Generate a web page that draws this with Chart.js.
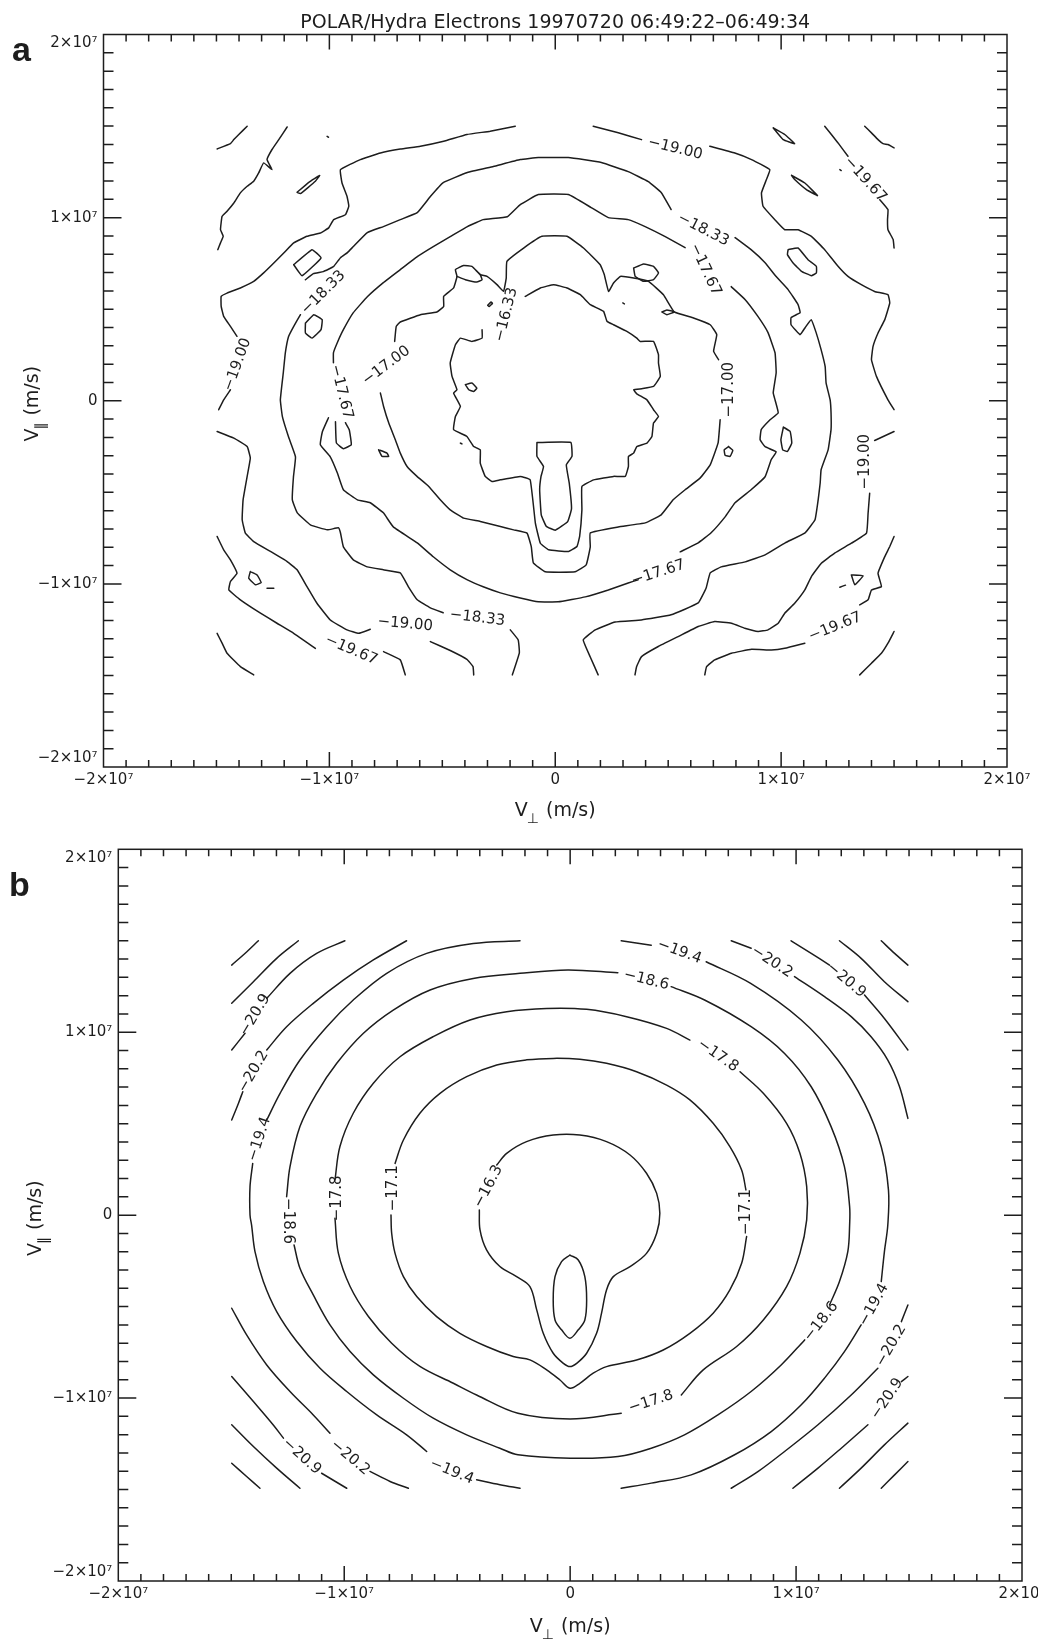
<!DOCTYPE html>
<html>
<head>
<meta charset="utf-8">
<title>POLAR/Hydra Electrons 19970720</title>
<script src="https://cdn.jsdelivr.net/npm/chart.js@4.4.1/dist/chart.umd.min.js"></script>
<style>
  html, body { margin: 0; padding: 0; background: #ffffff; }
  #page { position: relative; width: 1038px; height: 1645px; overflow: hidden; }
  #panelA { position: absolute; left: 0; top: 0; }
  #panelB { position: absolute; left: 0; top: 830px; }
</style>
</head>
<body>
<div id="page">
  <canvas id="panelA" width="1038" height="830"></canvas>
  <canvas id="panelB" width="1038" height="815"></canvas>
</div>
<script>
// Velocities below are in units of 1e6 m/s; null breaks a contour line.
const MEGA = 1e6;

// ---------- tick labels ----------
const xTickLabels = ['\u22122\u00d710\u2077', '\u22121\u00d710\u2077', '0', '1\u00d710\u2077', '2\u00d710\u2077'];
const yTickLabels = [['\u22122\u00d710\u2077', ''], '\u22121\u00d710\u2077', '0', '1\u00d710\u2077', ['', '2\u00d710\u2077']];

const titleText = 'POLAR/Hydra Electrons 19970720 06:49:22\u201306:49:34';

// ---------- panel a : measured distribution, log f contours ----------
const a_corner = [
  [-14.97,13.75],[-14.38,14.04],[-14.23,14.26],[-14.01,14.54],[-13.64,14.99], null,
  [13.70,14.99],[14.00,14.63],[14.29,14.26],[14.51,14.04],[14.73,13.99],[15.0,13.81], null,
  [-14.97,-12.70],[-14.75,-13.24],[-14.53,-13.79],[-13.94,-14.52],[-13.35,-14.97], null,
  [15.0,-12.60],[14.73,-13.24],[14.44,-13.79],[14.00,-14.33],[13.48,-14.97]
];
const a_1967 = [
  [-11.87,14.95],[-12.24,14.26],[-12.54,13.72],[-12.76,13.17],[-12.54,12.62],[-12.91,12.99],[-13.13,12.44],[-13.35,11.99],[-13.64,11.71],[-13.94,11.35],[-14.23,10.80],[-14.53,10.35],[-14.75,10.07],[-14.82,9.34],[-14.70,8.98],[-14.82,8.62],[-14.94,8.25], null,
  [11.93,14.99],[12.52,14.08],[12.96,13.35], null, [14.37,10.98],[14.73,10.44],[14.71,9.89],[14.73,9.34],[14.96,8.80],[15.0,8.34], null,
  [-14.97,-7.41],[-14.68,-8.14],[-14.38,-8.69],[-14.09,-9.42],[-14.38,-9.87],[-14.45,-10.33],[-13.94,-10.87],[-13.05,-11.60],[-12.32,-12.15],[-11.58,-12.70],[-10.62,-13.52], null, [-7.60,-13.70],[-6.86,-14.15],[-6.64,-14.97], null,
  [15.0,-7.41],[14.81,-7.96],[14.59,-8.51],[14.29,-9.42],[14.44,-10.15],[14.00,-10.33],[13.85,-10.87],[13.48,-11.15], null, [11.05,-13.24],[10.16,-13.52],[9.57,-13.61],[8.69,-13.57],[7.80,-13.79],[7.06,-14.15],[6.70,-14.52],[6.62,-14.97]
];
const a_1900 = [
  [-1.77,14.99],[-2.88,14.72],[-3.91,14.54],[-4.94,14.17],[-5.97,13.90],[-6.86,13.75],[-7.74,13.53],[-8.63,13.17],[-9.51,12.62],[-9.44,11.89],[-9.22,11.17],[-9.14,10.62],[-9.29,10.16],[-9.81,9.89],[-10.03,9.44],[-10.40,9.16],[-10.99,8.98],[-11.58,8.62],[-12.02,8.07],[-12.46,7.52],[-12.91,6.98],[-13.35,6.52],[-13.94,6.16],[-14.53,5.88],[-14.79,5.70],[-14.79,5.15],[-14.68,4.61],[-14.38,4.06],[-14.09,3.52], null, [-14.38,0.60],[-14.68,0.05],[-14.90,-0.49], null,
  [-14.97,-1.68],[-14.23,-2.04],[-13.64,-2.50],[-13.50,-3.13],[-13.64,-4.13],[-13.82,-5.41],[-13.86,-6.50],[-13.72,-7.23],[-13.35,-7.69],[-12.61,-8.23],[-11.87,-8.78],[-11.43,-9.23],[-10.99,-10.15],[-10.55,-11.06],[-9.96,-11.97],[-9.22,-12.51],[-8.70,-12.70],[-8.19,-12.48], null, [-5.53,-13.15],[-4.65,-13.64],[-3.91,-14.12],[-3.64,-14.52],[-3.61,-14.97], null,
  [1.68,14.99],[2.79,14.63],[3.82,14.26], null, [6.84,13.90],[7.95,13.53],[8.69,13.17],[9.50,12.62],[9.35,12.08],[9.13,11.35],[9.20,10.62],[9.72,9.89],[10.16,9.34],[10.75,9.34],[11.34,8.98],[11.93,8.25],[12.52,7.34],[12.96,6.79],[13.55,6.34],[14.14,5.97],[14.73,5.79],[14.81,5.34],[14.59,4.43],[14.29,3.70],[14.07,2.97],[14.00,2.24],[14.22,1.33],[14.73,0.05],[15.0,-0.49], null,
  [15.0,-1.68],[14.14,-2.17], null, [13.92,-5.05],[13.85,-6.14],[13.78,-7.23],[13.11,-7.78],[12.37,-8.32],[11.78,-8.87],[11.34,-9.60],[11.05,-10.33],[10.60,-11.06],[10.16,-11.60],[9.87,-12.15],[9.42,-12.51],[8.98,-12.60],[8.39,-12.42],[7.80,-12.15],[7.06,-12.06],[6.33,-12.33],[5.44,-12.88],[4.56,-13.42],[3.82,-13.97],[3.60,-14.52],[3.53,-14.97]
];
const a_1833 = [
  [-1.90,-14.97],[-1.59,-13.77],[-1.64,-13.06],[-1.99,-12.51], null,
  [-4.96,-11.58],[-5.53,-11.31],[-6.11,-10.87],[-6.50,-10.16],[-6.86,-9.40],[-7.61,-9.23],[-8.32,-9.07],[-8.94,-8.69],[-9.38,-7.98],[-9.51,-7.21],[-9.60,-6.94],[-10.09,-7.05],[-10.84,-6.78],[-11.42,-6.12],[-11.64,-5.41],[-11.59,-4.15],[-11.50,-3.06],[-11.81,-1.97],[-12.08,-0.87],[-12.17,0.05],[-12.04,1.53],[-11.95,2.62],[-11.81,3.50],[-11.59,4.04],[-11.28,4.70], null,
  [-11.06,6.61],[-10.71,6.94],[-10.27,7.05],[-9.82,7.32],[-9.51,7.81],[-9.20,8.09],[-8.94,8.42],[-8.32,9.18],[-7.61,9.51],[-6.86,9.89],[-6.11,10.27],[-5.53,11.15],[-4.96,11.91],[-3.89,12.46],[-2.74,12.79],[-1.55,13.17],[-0.75,13.28],[0.58,13.28],[2.04,13.01],[3.23,12.51],[4.12,11.97],[4.69,11.37],[5.13,10.44], null,
  [7.96,8.91],[8.67,8.25],[9.29,7.54],[9.78,6.78],[10.31,6.07],[10.75,5.25],[10.84,4.81],[10.44,4.54],[10.44,4.15],[10.84,3.61],[11.06,3.99],[11.33,4.43],[11.55,3.72],[11.77,2.79],[11.95,1.86],[11.99,0.98],[12.17,0.05],[12.21,-0.66],[12.21,-1.58],[12.08,-2.68],[11.77,-3.77],[11.73,-4.48],[11.64,-5.41],[11.50,-6.50],[11.06,-7.21],[10.18,-7.76],[9.29,-8.42],[8.41,-8.80],[7.35,-9.07],[6.86,-9.40],[6.68,-10.22],[6.33,-11.04],[5.13,-11.69],[3.81,-11.97],[2.65,-12.08],[1.77,-12.51],[1.24,-13.06],[1.55,-13.99],[1.90,-14.97]
];
const a_1767 = [
  [-10.04,-0.93],[-10.31,-1.69],[-10.40,-2.40],[-9.96,-3.06],[-9.65,-3.93],[-9.38,-4.86],[-8.76,-5.41],[-8.19,-5.57],[-7.61,-6.12],[-7.17,-6.89],[-6.11,-7.76],[-5.40,-8.52],[-4.65,-9.23],[-3.89,-9.78],[-3.19,-10.16],[-2.43,-10.49],[-1.55,-10.77],[-0.75,-10.98],[0.13,-10.98],[1.33,-10.71],[2.35,-10.33],[3.23,-9.95],[3.67,-9.78], null,
  [5.53,-8.25],[6.33,-7.76],[6.90,-7.21],[7.52,-6.34],[7.96,-5.57],[8.67,-4.86],[9.29,-4.15],[9.56,-3.22],[9.78,-2.79],[9.29,-2.51],[9.07,-2.13],[9.12,-1.58],[9.51,-1.04],[9.87,-0.66],[9.73,0.05],[9.65,0.44],[9.78,1.53],[9.73,2.62],[9.42,3.72],[8.98,4.59],[8.41,5.52],[7.79,6.23], null,
  [5.75,8.36],[4.87,8.96],[3.98,9.51],[3.23,9.89],[2.35,10.00],[1.59,10.55],[0.58,11.26],[-0.75,11.26],[-1.55,10.71],[-2.12,10.05],[-3.19,9.89],[-3.89,9.51],[-4.65,8.96],[-5.40,8.42],[-6.11,7.87],[-6.86,7.16],[-7.61,6.45],[-8.32,5.68],[-8.94,4.81],[-9.38,3.88],[-9.65,3.17],[-9.82,2.62],[-9.82,2.08], null,
  [-9.73,-1.15],[-9.69,-2.30],[-9.38,-2.62],[-9.03,-2.40],[-9.12,-1.58],[-9.29,-1.20]
];
const a_1700 = [
  [-7.11,3.24],[-7.04,4.06],[-6.86,4.30],[-5.97,4.70],[-5.24,4.85],[-4.94,5.15],[-4.94,5.70],[-4.50,6.16],[-4.35,6.79],[-4.42,7.16],[-4.06,7.39],[-3.69,7.34],[-3.32,6.89],[-3.02,6.79],[-2.58,6.34],[-2.29,5.97],[-2.17,6.70],[-2.14,7.61],[-1.40,8.34],[-0.59,8.98],[0.52,8.98],[1.25,8.34],[1.99,7.43],[2.17,6.89],[2.36,5.97],[2.58,6.43],[2.88,6.79],[3.47,6.70],[4.13,6.52],[4.79,5.79],[5.27,4.85],[6.12,4.52],[6.86,4.15],[7.15,3.61],[7.01,2.70],[7.23,2.24], null,
  [7.30,-1.04],[7.21,-2.30],[6.86,-3.50],[6.42,-4.21],[5.75,-4.86],[5.22,-5.41],[4.69,-6.23],[3.98,-6.67],[2.79,-6.89],[1.55,-7.21],[1.55,-7.98],[1.37,-8.96],[0.88,-9.34],[-0.44,-9.34],[-0.97,-8.85],[-1.06,-7.98],[-1.25,-7.23],[-1.84,-7.05],[-2.43,-6.87],[-3.32,-6.59],[-4.06,-6.41],[-4.65,-5.96],[-5.09,-5.41],[-5.60,-4.68],[-6.12,-4.13],[-6.56,-3.59],[-6.86,-2.86],[-7.08,-2.13],[-7.37,-1.22],[-7.60,-0.31],[-7.74,0.42]
];
const a_1633 = [
  [-1.33,5.70],[-0.66,6.16],[-0.07,6.34],[0.52,6.16],[1.11,5.79],[1.55,5.25],[2.14,4.88],[2.29,4.34],[2.58,4.15],[3.17,3.79],[3.61,3.42],[3.76,3.24],[4.35,3.24],[4.57,2.51],[4.57,2.06],[4.65,1.33],[4.35,0.78],[3.83,0.66],[3.47,0.60],[3.61,0.38],[4.06,0.05],[4.35,-0.49],[4.57,-0.86],[4.35,-1.22],[4.28,-1.95],[4.06,-2.31],[3.61,-2.50],[3.47,-2.86],[3.24,-3.04],[3.24,-3.59],[3.10,-4.13],[2.58,-4.13],[1.70,-4.32],[1.18,-4.68],[1.18,-5.96],[1.08,-7.41],[0.96,-7.96],[0.59,-8.23],[-0.29,-8.14],[-0.66,-7.78],[-0.88,-6.68],[-1.11,-4.32],[-1.55,-4.13],[-2.43,-4.32],[-2.80,-4.41],[-3.10,-4.13],[-3.32,-3.41],[-3.32,-2.68],[-3.61,-2.50],[-3.91,-1.95],[-4.50,-1.58],[-4.42,-0.86],[-4.20,-0.31],[-4.50,0.42],[-4.35,0.60],[-4.57,1.33],[-4.65,2.06],[-4.42,3.06],[-4.20,3.42],[-3.69,3.24],[-3.24,3.42],[-3.24,3.88]
];
const a_core = [
  [-0.81,-2.28],[0.69,-2.28],[0.74,-3.04],[0.49,-3.50],[0.62,-4.50],[0.72,-5.90],[0.55,-6.60],[0.0,-7.07],[-0.40,-6.85],[-0.62,-6.23],[-0.69,-4.86],[-0.63,-4.13],[-0.52,-3.59],[-0.81,-3.04],[-0.81,-2.28]
];
const a_islands = [
  [-11.43,11.38],[-10.91,11.93],[-10.43,12.30],[-10.62,11.99],[-11.28,11.31],[-11.43,11.38], null,
  [-11.58,7.43],[-10.77,8.25],[-10.37,7.80],[-11.21,6.83],[-11.58,7.43], null,
  [-11.06,4.24],[-10.69,4.70],[-10.32,4.43],[-10.37,3.88],[-10.77,3.42],[-11.06,3.70],[-11.06,4.24], null,
  [-13.50,-9.33],[-13.20,-9.51],[-13.02,-9.93],[-13.27,-10.05],[-13.57,-9.69],[-13.50,-9.33], null,
  [-12.76,-10.24],[-12.46,-10.24], null,
  [-7.82,-2.68],[-7.45,-2.86],[-7.37,-3.04],[-7.67,-3.04],[-7.82,-2.68], null,
  [13.11,-9.51],[13.63,-9.56],[13.26,-10.05],[13.11,-9.51], null,
  [12.60,-10.18],[12.85,-10.07], null,
  [7.67,-2.50],[7.86,-2.71],[7.74,-3.04],[7.52,-2.97],[7.48,-2.68],[7.67,-2.50], null,
  [10.10,-1.44],[10.40,-1.68],[10.47,-2.31],[10.28,-2.77],[10.07,-2.68],[9.99,-2.13],[10.10,-1.44], null,
  [9.65,14.90],[10.16,14.54],[10.60,14.04],[10.09,14.26],[9.65,14.90], null,
  [10.46,12.31],[11.05,11.89],[11.61,11.20],[11.12,11.53],[10.60,12.08],[10.46,12.31], null,
  [10.31,8.25],[10.75,8.34],[11.19,7.70],[11.56,7.34],[11.56,6.98],[11.34,6.83],[10.90,7.07],[10.53,7.52],[10.28,7.98],[10.31,8.25], null,
  [-4.35,6.79],[-3.98,6.61],[-3.47,6.48],[-3.24,6.61],[-3.32,6.89], null,
  [3.47,7.25],[3.91,7.47],[4.35,7.34],[4.57,6.98],[4.35,6.61],[3.91,6.52],[3.54,6.79],[3.47,7.25], null,
  [4.72,4.85],[4.94,4.96],[5.27,4.85],[4.94,4.70],[4.72,4.85], null,
  [-2.99,5.21],[-2.84,5.39],[-2.78,5.32],[-2.93,5.14],[-2.99,5.21], null,
  [-3.98,0.88],[-3.69,0.97],[-3.47,0.69],[-3.61,0.51],[-3.83,0.60],[-3.98,0.88], null,
  [2.99,5.34],[3.06,5.29], null,
  [-4.20,-2.31],[-4.13,-2.36], null,
  [12.60,12.62],[12.66,12.57], null,
  [-10.10,14.44],[-10.04,14.39]
];
const a_levelLabels = [
  { t: '\u221219.67', at: [13.72, 12.08], rot: 48 },
  { t: '\u221219.67', at: [-9.03, -13.61], rot: 23 },
  { t: '\u221219.67', at: [12.39, -12.35], rot: -22 },
  { t: '\u221219.00', at: [5.31, 13.77], rot: 14 },
  { t: '\u221219.00', at: [-14.07, 1.97], rot: -70 },
  { t: '\u221219.00', at: [-6.64, -12.19], rot: 5 },
  { t: '\u221219.00', at: [13.72, -3.33], rot: -90 },
  { t: '\u221218.33', at: [-10.27, 5.90], rot: -45 },
  { t: '\u221218.33', at: [6.55, 9.34], rot: 27 },
  { t: '\u221218.33', at: [-3.45, -11.86], rot: 7 },
  { t: '\u221217.67', at: [6.64, 7.16], rot: 65 },
  { t: '\u221217.67', at: [-9.47, 0.49], rot: 76 },
  { t: '\u221217.67', at: [4.56, -9.40], rot: -18 },
  { t: '\u221217.00', at: [-7.48, 1.91], rot: -37 },
  { t: '\u221217.00', at: [7.70, 0.60], rot: -90 },
  { t: '\u221216.33', at: [-2.17, 4.70], rot: -76 }
];

// ---------- panel b : model distribution ----------
const b_outer = [
  [-14.98,11.58],[-14.02,12.76],[-12.99,14.04],[-12.03,15.0], null,
  [-14.98,13.67],[-14.31,14.40],[-13.80,15.0], null,
  [11.92,15.0],[12.88,14.04],[13.91,12.76],[14.95,11.67], null,
  [13.77,15.0],[14.36,14.31],[14.95,13.67], null,
  [-14.98,-11.46],[-14.02,-12.65],[-12.99,-13.83],[-11.96,-14.93], null,
  [-14.98,-13.56],[-14.32,-14.29],[-13.73,-14.93], null,
  [14.95,-11.37],[13.91,-12.56],[12.88,-13.83],[11.92,-14.93], null,
  [14.95,-13.47],[14.36,-14.20],[13.77,-14.93]
];
const b_2090 = [
  [-14.98,9.03],[-14.39,9.94], null, [-13.43,11.85],[-12.40,13.22],[-11.22,14.31],[-9.97,15.0], null,
  [9.78,15.0],[10.67,14.31],[11.48,13.67], null, [13.03,12.03],[13.91,10.75],[14.95,9.03], null,
  [-14.98,-8.82],[-14.02,-10.19],[-13.14,-11.47],[-12.69,-12.19], null, [-11.00,-14.11],[-9.89,-14.93], null,
  [14.95,-8.82],[14.66,-9.10], null, [13.18,-11.46],[12.00,-12.74],[10.97,-13.83],[9.86,-14.93]
];
const b_2020 = [
  [-14.98,5.20],[-14.68,6.12],[-14.49,6.75], null, [-13.43,9.03],[-12.55,10.30],[-11.37,11.58],[-10.04,12.85],[-8.71,13.95],[-7.24,15.0], null,
  [7.13,15.0],[8.01,14.59], null, [9.93,13.04],[11.26,11.94],[12.44,10.85],[13.32,9.75],[14.06,8.48],[14.58,7.02],[14.95,5.29], null,
  [-14.98,-5.09],[-14.32,-6.55],[-13.43,-8.19],[-12.40,-9.64],[-11.37,-10.92],[-10.63,-11.92], null, [-8.86,-14.01],[-7.97,-14.56],[-7.16,-14.93], null,
  [14.95,-4.91],[14.66,-5.82], null, [13.62,-8.37],[12.44,-9.83],[10.97,-11.46],[9.49,-12.92],[8.31,-14.02],[7.13,-14.93]
];
const b_1940 = [
  [-2.22,15.0],[-4.29,14.85],[-6.35,14.31],[-8.12,13.22],[-9.60,11.76],[-10.78,10.29],[-11.96,8.48],[-12.84,6.66],[-13.43,5.20], null,
  [-14.05,2.83],[-14.17,1.56],[-14.17,0.01],[-14.10,-0.54],[-13.95,-1.99],[-13.58,-3.63],[-12.99,-5.27],[-12.10,-6.91],[-11.07,-8.37],[-9.89,-9.64],[-8.56,-10.92],[-7.24,-12.01],[-6.35,-12.92], null,
  [-4.14,-14.47],[-3.11,-14.74],[-2.22,-14.93], null,
  [2.26,-14.93],[3.59,-14.65],[5.36,-14.20],[7.28,-13.10],[8.90,-11.83],[10.23,-10.37],[11.26,-8.91],[12.14,-7.46],[12.88,-6.00], null,
  [13.77,-3.63],[13.91,-1.99],[14.06,-0.54],[14.09,1.37],[13.77,3.74],[13.03,6.11],[11.85,8.48],[10.23,10.67],[7.99,12.67],[6.02,13.85], null,
  [3.59,14.76],[2.26,15.0]
];
const b_1860 = [
  [-12.55,1.01],[-12.40,2.65],[-11.96,4.84],[-11.22,6.66],[-10.33,8.30],[-9.15,9.94],[-7.83,11.21],[-6.20,12.31],[-4.29,12.94],[-2.22,13.22],[-0.10,13.40],[2.11,13.25], null,
  [4.47,12.49],[5.95,11.76],[8.01,10.30],[9.49,8.84],[10.67,7.02],[11.55,4.84],[12.14,2.65],[12.37,0.47],[12.37,-0.54],[12.29,-1.99],[11.92,-3.63],[11.48,-4.91], null,
  [10.38,-6.82],[9.34,-8.19],[8.01,-9.64],[6.54,-10.92],[5.06,-12.01],[3.59,-12.74],[2.12,-13.20],[0.01,-13.29],[-2.31,-13.10],[-3.11,-12.74],[-4.58,-12.01],[-6.06,-11.10],[-7.38,-10.01],[-8.71,-8.73],[-9.74,-7.46],[-10.63,-6.00],[-11.37,-4.36],[-11.96,-2.90],[-12.22,-1.63]
];
const b_1780 = [
  [-10.41,1.92],[-10.19,3.75],[-9.60,5.57],[-8.71,7.21],[-7.53,8.66],[-6.06,9.76],[-4.43,10.67],[-2.81,11.12],[-1.04,11.30],[0.73,11.25],[2.50,10.85],[4.27,10.21],[5.30,9.57], null,
  [7.52,7.84],[8.55,6.66],[9.58,5.02],[10.17,3.38],[10.47,1.56],[10.47,-0.26],[10.17,-2.09],[9.58,-3.91],[8.55,-5.73],[7.37,-7.18],[5.89,-8.46],[4.92,-9.83], null,
  [2.26,-10.83],[0.00,-11.14],[-2.31,-10.83],[-4.14,-9.83],[-5.17,-9.19],[-6.65,-8.27],[-7.90,-7.00],[-8.93,-5.54],[-9.74,-3.90],[-10.26,-2.08],[-10.41,-0.17]
];
const b_1710 = [
  [-7.75,2.83],[-7.38,4.11],[-6.65,5.57],[-5.76,6.66],[-4.58,7.57],[-3.25,8.21],[-1.93,8.49],[-0.75,8.57],[0.43,8.52],[1.61,8.30],[2.94,7.84],[4.27,7.11],[5.30,6.30],[6.33,5.02],[7.07,3.75],[7.59,2.47],[7.78,1.38], null,
  [7.81,-1.17],[7.59,-2.63],[7.07,-4.09],[6.33,-5.36],[5.30,-6.46],[4.12,-7.37],[2.94,-7.92],[1.61,-8.28],[1.02,-8.64],[0.43,-9.19],[-0.01,-9.46],[-0.45,-9.01],[-1.04,-8.46],[-1.78,-7.91],[-2.52,-7.73],[-3.70,-7.18],[-4.88,-6.46],[-5.91,-5.55],[-6.79,-4.45],[-7.38,-3.36],[-7.75,-2.09],[-7.90,-0.99],[-7.93,0.01]
];
const b_1630 = [
  [-3.25,2.74],[-2.81,3.38],[-1.93,4.02],[-0.75,4.38],[0.43,4.38],[1.61,4.02],[2.65,3.29],[3.38,2.29],[3.83,1.19],[3.97,0.10],[3.83,-0.99],[3.38,-2.09],[2.65,-2.81],[1.91,-3.36],[1.61,-4.09],[1.39,-5.36],[1.17,-6.46],[0.73,-7.55],[0.29,-8.10],[-0.01,-8.28],[-0.30,-8.10],[-0.75,-7.55],[-1.19,-6.46],[-1.48,-5.18],[-1.78,-3.91],[-2.37,-3.36],[-3.11,-2.81],[-3.70,-1.90],[-3.99,-0.81],[-4.02,0.28]
];
const b_core = [
  [-0.01,-2.18],[0.36,-2.45],[0.65,-3.36],[0.73,-4.64],[0.65,-5.73],[0.36,-6.27],[-0.01,-6.73],[-0.38,-6.27],[-0.67,-5.73],[-0.75,-4.64],[-0.67,-3.36],[-0.38,-2.54],[-0.01,-2.18]
];
const b_levelLabels = [
  { t: '\u221216.3', at: [-3.62, 1.56], rot: -62 },
  { t: '\u221217.1', at: [-7.82, 1.47], rot: -90 },
  { t: '\u221217.1', at: [7.81, 0.17], rot: -90 },
  { t: '\u221217.8', at: [-10.33, 0.92], rot: -90 },
  { t: '\u221217.8', at: [6.54, 8.72], rot: 35 },
  { t: '\u221217.8', at: [3.58, -10.20], rot: -18 },
  { t: '\u221218.6', at: [-12.48, -0.32], rot: 90 },
  { t: '\u221218.6', at: [3.37, 12.85], rot: 14 },
  { t: '\u221218.6', at: [11.11, -5.82], rot: -52 },
  { t: '\u221219.4', at: [-13.76, 4.15], rot: -72 },
  { t: '\u221219.4', at: [4.84, 14.40], rot: 20 },
  { t: '\u221219.4', at: [-5.24, -14.02], rot: 22 },
  { t: '\u221219.4', at: [13.44, -4.91], rot: -61 },
  { t: '\u221220.2', at: [-14.02, 7.84], rot: -60 },
  { t: '\u221220.2', at: [8.93, 13.85], rot: 33 },
  { t: '\u221220.2', at: [-9.74, -13.25], rot: 40 },
  { t: '\u221220.2', at: [14.21, -7.13], rot: -60 },
  { t: '\u221220.9', at: [-13.95, 10.94], rot: -59 },
  { t: '\u221220.9', at: [12.22, 12.85], rot: 40 },
  { t: '\u221220.9', at: [-11.88, -13.20], rot: 42 },
  { t: '\u221220.9', at: [14.03, -10.04], rot: -56 }
];

// ---------- drawing ----------
const INK = '#1d1d1d';
const FONT = '"DejaVu Sans", "Liberation Sans", sans-serif';

function toPoints(list) {
  return list.map(p => p ? { x: p[0] * MEGA, y: p[1] * MEGA } : { x: null, y: null });
}
function contour(list, tension) {
  return {
    data: toPoints(list), showLine: true, fill: false, spanGaps: false,
    borderColor: INK, borderWidth: 1.5, tension: tension,
    pointRadius: 0, pointHoverRadius: 0, pointHitRadius: 0,
    borderCapStyle: 'round', borderJoinStyle: 'round'
  };
}
function axis(labels, isY, size, pad) {
  return {
    type: 'linear', min: -2e7, max: 2e7,
    grid: { display: false, drawTicks: false },
    border: { display: false },
    ticks: {
      stepSize: 1e7, autoSkip: false, maxRotation: 0, minRotation: 0, padding: pad,
      color: INK, font: { family: FONT, size: 15 },
      callback: (v, i) => labels[i]
    },
    afterFit: s => {
      if (isY) s.width = size; else s.height = size;
      s.paddingLeft = 0; s.paddingRight = 0; s.paddingTop = 0; s.paddingBottom = 0;
    }
  };
}

// inward minor/major tick marks on all four sides plus the frame
const frameTicks = {
  id: 'frameTicks',
  afterDatasetsDraw(chart) {
    const { ctx, chartArea: a, scales: { x, y } } = chart;
    ctx.save();
    ctx.strokeStyle = INK; ctx.lineWidth = 1.5;
    ctx.strokeRect(a.left, a.top, a.right - a.left, a.bottom - a.top);
    ctx.beginPath();
    for (let k = -19; k <= 19; k++) {
      const major = k % 10 === 0;
      const px = x.getPixelForValue(k * MEGA);
      const lx = major ? 15 : 7;
      ctx.moveTo(px, a.bottom); ctx.lineTo(px, a.bottom - lx);
      ctx.moveTo(px, a.top); ctx.lineTo(px, a.top + lx);
      const py = y.getPixelForValue(k * MEGA);
      const ly = major ? 18 : 10;
      ctx.moveTo(a.left, py); ctx.lineTo(a.left + ly, py);
      ctx.moveTo(a.right, py); ctx.lineTo(a.right - ly, py);
    }
    ctx.stroke();
    ctx.restore();
  }
};

// contour level annotations placed in data coordinates
const levelText = {
  id: 'levelText',
  afterDatasetsDraw(chart, args, opts) {
    const { ctx, scales: { x, y } } = chart;
    ctx.save();
    ctx.fillStyle = INK;
    ctx.font = '15px ' + FONT;
    ctx.textAlign = 'center'; ctx.textBaseline = 'middle';
    for (const L of opts.items) {
      ctx.save();
      ctx.translate(x.getPixelForValue(L.at[0] * MEGA), y.getPixelForValue(L.at[1] * MEGA));
      ctx.rotate(L.rot * Math.PI / 180);
      ctx.fillText(L.t, 0, 0);
      ctx.restore();
    }
    ctx.restore();
  }
};

function subscripted(ctx, cx, base, main, sub, rest) {
  const big = '19px ' + FONT, small = '14px ' + FONT;
  ctx.font = big; const w1 = ctx.measureText(main).width; const w3 = ctx.measureText(rest).width;
  ctx.font = small; const w2 = ctx.measureText(sub).width;
  const x0 = cx - (w1 + w2 + w3) / 2;
  ctx.textAlign = 'left'; ctx.textBaseline = 'alphabetic';
  ctx.font = big; ctx.fillText(main, x0, base);
  ctx.font = small; ctx.fillText(sub, x0 + w1 - 1, base + 7);
  ctx.font = big; ctx.fillText(rest, x0 + w1 + w2, base);
}

// panel letter, title and axis titles
const frameText = {
  id: 'frameText',
  afterDraw(chart, args, o) {
    const { ctx, chartArea: a } = chart;
    const cx = (a.left + a.right) / 2, cy = (a.top + a.bottom) / 2;
    ctx.save();
    ctx.fillStyle = INK;
    ctx.font = 'bold 34px "Liberation Sans", Arial, sans-serif';
    ctx.textAlign = 'left'; ctx.textBaseline = 'alphabetic';
    ctx.fillText(o.letter, o.letterX, o.letterY);
    if (o.title) {
      ctx.font = '19px ' + FONT; ctx.textAlign = 'center';
      ctx.fillText(o.title, cx, a.top - 7);
    }
    subscripted(ctx, cx, a.bottom + o.xTitleGap, 'V', '\u22a5', ' (m/s)');
    ctx.translate(o.yTitleX, cy + 3);
    ctx.rotate(-Math.PI / 2);
    subscripted(ctx, 0, 0, 'V', '\u2225', ' (m/s)');
    ctx.restore();
  }
};

function makePanel(canvasId, datasets, labels, geom, text) {
  return new Chart(document.getElementById(canvasId), {
    type: 'scatter',
    data: { datasets },
    options: {
      responsive: false, animation: false, devicePixelRatio: 1, events: [],
      layout: { autoPadding: false, padding: geom.padding },
      scales: {
        x: axis(xTickLabels, false, geom.xHeight, 4),
        y: axis(yTickLabels, true, geom.yWidth, 6)
      },
      plugins: {
        legend: { display: false }, tooltip: { enabled: false }, title: { display: false },
        levelText: { items: labels },
        frameText: text
      }
    },
    plugins: [frameTicks, levelText, frameText]
  });
}

const rough = 0.1, smooth = 0.35;
makePanel('panelA',
  [a_corner, a_1967, a_1900, a_1833, a_1767, a_1700, a_1633, a_core, a_islands].map(c => contour(c, rough)),
  a_levelLabels,
  { padding: { left: 0, top: 34.5, right: 31, bottom: 0 }, xHeight: 63, yWidth: 103.5 },
  { letter: 'a', letterX: 12, letterY: 61, title: titleText, xTitleGap: 49, yTitleX: 38 });

makePanel('panelB',
  [b_outer, b_2090, b_2020, b_1940, b_1860, b_1780, b_1710, b_1630, b_core].map(c => contour(c, smooth)),
  b_levelLabels,
  { padding: { left: 0, top: 19.3, right: 16, bottom: 0 }, xHeight: 64, yWidth: 118.3 },
  { letter: 'b', letterX: 9, letterY: 66, title: null, xTitleGap: 51, yTitleX: 41 });
</script>
</body>
</html>
